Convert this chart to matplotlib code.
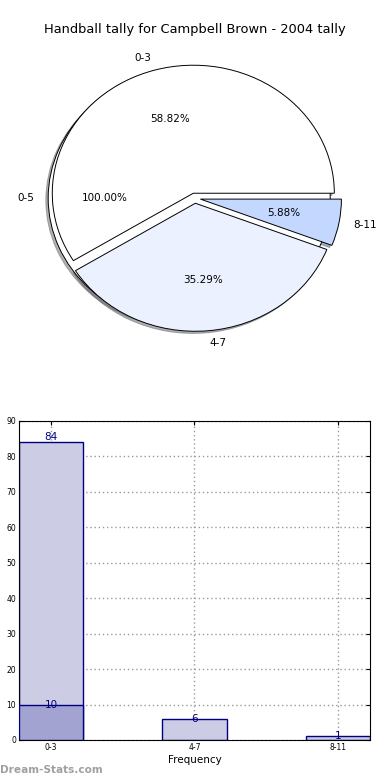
import matplotlib
matplotlib.use("Agg")
import matplotlib.pyplot as plt

title = "Handball tally for Campbell Brown - 2004 tally"
outer_labels = ["0-5"]
outer_values = [84]
pie_labels = ["0-3", "4-7", "8-11"]
pie_values = [10, 6, 1]
pie_colors = ["#FFFFFF", "#EBF1FF", "#C4D8FF"]

bar_labels = ["0-3", "4-7", "8-11"]
bar_values = [84, 6, 1]
bar_overlay = [10]

fig = plt.figure(figsize=(3.9, 7.8), dpi=100)

shadow = dict(ox=-0.012, oy=-0.012, shade=0.6)

# Pie
axp = fig.add_axes([0.0476, 0.5408, 0.904, 0.4103])
axp.pie(outer_values, labels=outer_labels, explode=[0.04], colors=["#FFFFFF"],
        autopct="%1.2f%%", pctdistance=0.6, labeldistance=1.1, shadow=shadow,
        wedgeprops=dict(edgecolor="black", linewidth=0.7),
        textprops=dict(fontsize=7.5))
axp.pie(pie_values, labels=pie_labels, explode=[0.04] * len(pie_values), colors=pie_colors,
        autopct="%1.2f%%", pctdistance=0.6, labeldistance=1.1, shadow=shadow,
        wedgeprops=dict(edgecolor="black", linewidth=0.7),
        textprops=dict(fontsize=7.5))
axp.set_aspect("auto")
axp.set_xlim(-1.25, 1.25)
axp.set_ylim(-1.25, 1.25)
fig.text(0.5, 1 - 30 / 780, title, ha="center", va="center", fontsize=9.4)

# Bars
axb = fig.add_axes([0.0487, 0.0513, 0.9, 0.409])
x = list(range(len(bar_labels)))
w = 0.45
axb.bar(x, bar_values, width=w, color="#CCCCE5", edgecolor="#000080", linewidth=1, zorder=2)
axb.bar(x[:len(bar_overlay)], bar_overlay, width=w, color="#A3A3D1", edgecolor="#000080",
        linewidth=1, zorder=3)
for xi, v in zip(x, bar_values):
    va = "bottom" if v > 20 else "center"
    axb.text(xi, v, str(v), ha="center", va=va, color="#000080", fontsize=7.5, zorder=4)
for xi, v in zip(x, bar_overlay):
    axb.text(xi, v, str(v), ha="center", va="center", color="#000080", fontsize=7.5, zorder=4)
axb.set_xlim(-0.225, 2.225)
axb.set_ylim(0, 90)
axb.set_yticks(range(0, 91, 10))
axb.set_xticks(x)
axb.set_xticklabels(bar_labels)
axb.tick_params(labelsize=5.5, direction="in", top=True, right=True, length=3, pad=2)
axb.grid(True, linestyle=(0, (1, 2)), color="#999999", linewidth=1, zorder=0)
axb.set_axisbelow(True)
axb.set_xlabel("Frequency", fontsize=7.5, labelpad=2)

fig.text(0.0, 1 - 770 / 780, "Dream-Stats.com", ha="left", va="center",
         fontsize=7.6, fontweight="bold", color="#A0A0A0")

fig.savefig("out.png", dpi=100)
